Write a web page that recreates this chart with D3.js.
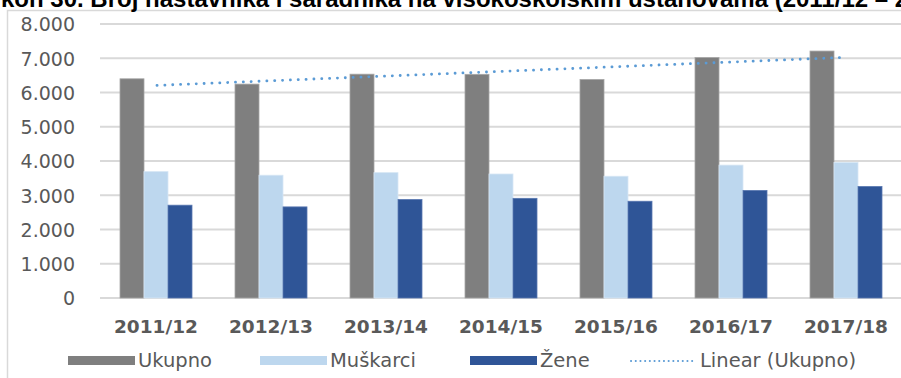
<!DOCTYPE html>
<html>
<head>
<meta charset="utf-8">
<script src="https://cdn.jsdelivr.net/npm/d3@7"></script>
<style>
  html, body { margin: 0; padding: 0; background: #fff; }
  svg { display: block; }
</style>
</head>
<body>
<svg id="chart" width="901" height="378"></svg>
<script>
// Academic years and staff counts at higher-education institutions
const years = ["2011/12", "2012/13", "2013/14", "2014/15", "2015/16", "2016/17", "2017/18"];
const ukupno   = [6400, 6245, 6535, 6530, 6380, 7020, 7210];
const muskarci = [3690, 3585, 3660, 3620, 3555, 3880, 3955];
const zene     = [2710, 2660, 2875, 2910, 2825, 3140, 3255];
const seriesNames = ["Ukupno", "Muškarci", "Žene"];
const trendName = "Linear (Ukupno)";
const yTicks = [0, 1000, 2000, 3000, 4000, 5000, 6000, 7000, 8000];
const titleText = "Grafikon 30. Broj nastavnika i saradnika na visokoškolskim ustanovama (2011/12 – 2017/18)";

const colors = { "Ukupno": "#7f7f7f", "Muškarci": "#bdd7ee", "Žene": "#2f5597" };
const edges  = { "Ukupno": "#a6a6a6", "Muškarci": "#d6e6f4", "Žene": "#5877b0" };
const trendColor = "#5b9bd5";
const textColor = "#595959";

const seriesData = { "Ukupno": ukupno, "Muškarci": muskarci, "Žene": zene };

const svg = d3.select("#chart");
const font = "'DejaVu Sans', sans-serif";

// Chart frame (extends past the right and bottom edges)
svg.append("rect")
  .attr("x", 7.5).attr("y", 10.5)
  .attr("width", 1000).attr("height", 500)
  .attr("fill", "#fff")
  .attr("stroke", "#d9d9d9").attr("stroke-width", 1.5);

// Title of the figure, sitting above the frame and running past the page edges
const titleFont = "'Liberation Sans', Arial, sans-serif";
const titleSize = 24;
const title = svg.append("text")
  .attr("y", 7)
  .attr("font-family", titleFont)
  .attr("font-weight", "bold")
  .attr("font-size", titleSize)
  .attr("fill", "#000")
  .text(titleText);
const probe = svg.append("text")
  .attr("font-family", titleFont)
  .attr("font-weight", "bold")
  .attr("font-size", titleSize)
  .text("Grafi");
const lead = probe.node().getComputedTextLength();
probe.remove();
title.attr("x", -lead + 1);

// Scales
const x = d3.scaleBand().domain(years).range([98.5, 903.5]).padding(0);
const groupW = x.bandwidth() * 0.626;
const xi = d3.scaleBand().domain(seriesNames).range([0, groupW]).padding(0);
const y = d3.scaleLinear().domain([0, 8000]).range([298, 24]);

// Gridlines
svg.append("g").selectAll("line")
  .data(yTicks)
  .join("line")
  .attr("x1", 100).attr("x2", 901)
  .attr("y1", d => y(d)).attr("y2", d => y(d))
  .attr("stroke", "#d9d9d9").attr("stroke-width", 2);

// Y axis labels (thousands separated by a dot)
const yAxis = d3.axisLeft(y).tickValues(yTicks).tickSize(0).tickPadding(0)
  .tickFormat(d => d === 0 ? "0" : (d / 1000).toFixed(3));
svg.append("g")
  .attr("transform", "translate(75,0)")
  .call(yAxis)
  .call(g => g.select(".domain").remove())
  .call(g => g.selectAll("text")
    .attr("font-family", font)
    .attr("font-size", 19)
    .attr("fill", textColor)
    .attr("dy", "0.36em"));

// Bars
const groups = svg.append("g").selectAll("g")
  .data(years)
  .join("g")
  .attr("transform", d => `translate(${x(d) + (x.bandwidth() - groupW) / 2},0)`);

groups.selectAll("rect")
  .data((yr, i) => seriesNames.map(s => ({ s, v: seriesData[s][i] })))
  .join("rect")
  .attr("x", d => xi(d.s))
  .attr("width", xi.bandwidth())
  .attr("y", d => y(d.v))
  .attr("height", d => y(0) - y(d.v))
  .attr("fill", d => colors[d.s])
  .attr("stroke", d => edges[d.s])
  .attr("stroke-width", 0.8);

// Linear trend of Ukupno (least squares over the category index)
const n = ukupno.length;
const xs = d3.range(1, n + 1);
const mx = d3.mean(xs), my = d3.mean(ukupno);
const slope = d3.sum(xs, (xv, i) => (xv - mx) * (ukupno[i] - my)) / d3.sum(xs, xv => (xv - mx) ** 2);
const intercept = my - slope * mx;
const trend = years.map((yr, i) => ({ yr, v: intercept + slope * (i + 1) }));
svg.append("path")
  .datum(trend)
  .attr("d", d3.line().x(d => x(d.yr) + x.bandwidth() / 2 + 1).y(d => y(d.v)))
  .attr("fill", "none")
  .attr("stroke", trendColor)
  .attr("stroke-width", 2.8)
  .attr("stroke-linecap", "round")
  .attr("stroke-dasharray", "0.1 7.75");

// X axis labels
const xAxis = d3.axisBottom(x).tickSize(0).tickPadding(0);
svg.append("g")
  .attr("transform", "translate(0,320)")
  .call(xAxis)
  .call(g => g.select(".domain").remove())
  .call(g => g.selectAll("text")
    .attr("font-family", font)
    .attr("font-weight", "bold")
    .attr("font-size", 18.5)
    .attr("fill", textColor)
    .attr("dy", "0.71em"));

// Legend
const legendItems = [
  { name: seriesNames[0], kind: "rect", x: 68 },
  { name: seriesNames[1], kind: "rect", x: 260 },
  { name: seriesNames[2], kind: "rect", x: 470 },
  { name: trendName, kind: "line", x: 630 }
];
const legend = svg.append("g");
legendItems.forEach(it => {
  if (it.kind === "rect") {
    legend.append("rect")
      .attr("x", it.x).attr("y", 356)
      .attr("width", 67).attr("height", 9)
      .attr("fill", colors[it.name]);
  } else {
    legend.append("line")
      .attr("x1", it.x + 1).attr("x2", it.x + 66)
      .attr("y1", 361).attr("y2", 361)
      .attr("stroke", trendColor)
      .attr("stroke-width", 2)
      .attr("stroke-linecap", "round")
      .attr("stroke-dasharray", "0.1 4.6");
  }
  legend.append("text")
    .attr("x", it.x + 70).attr("y", 367)
    .attr("font-family", font)
    .attr("font-size", 19.5)
    .attr("fill", textColor)
    .text(it.name);
});
</script>
</body>
</html>
